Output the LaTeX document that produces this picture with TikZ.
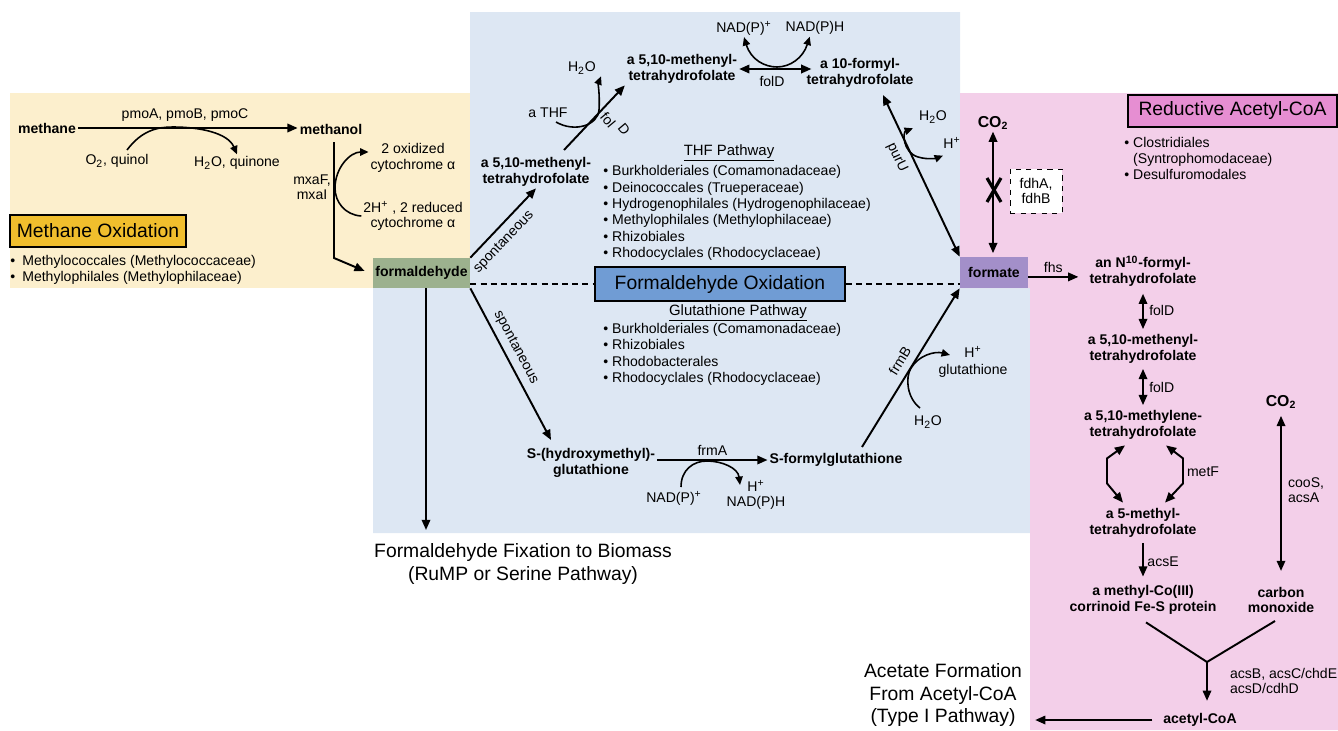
\documentclass[tikz,border=0pt]{standalone}
\usepackage{fontspec}
\setmainfont{Liberation Sans}
\usetikzlibrary{arrows.meta,positioning,calc}

\definecolor{bgblue}{RGB}{221,231,243}
\definecolor{bgyellow}{RGB}{252,239,205}
\definecolor{bgpink}{RGB}{243,207,233}
\definecolor{sage}{RGB}{156,177,142}
\definecolor{lavender}{RGB}{163,143,201}
\definecolor{gold}{RGB}{240,190,45}
\definecolor{oxblue}{RGB}{112,156,212}
\definecolor{coapink}{RGB}{230,142,210}

\tikzstyle{arrow} = [line width=1.1pt,-{Triangle[length=5.8pt,width=4.8pt]}]
\tikzstyle{dblarrow} = [line width=1.1pt,{Triangle[length=5.8pt,width=4.8pt]}-{Triangle[length=5.8pt,width=4.8pt]}]
\tikzstyle{sidearrow} = [line width=0.9pt,-{Triangle[length=4.8pt,width=4.2pt]}]
\tikzstyle{dblside} = [line width=0.9pt,{Triangle[length=4.8pt,width=4.2pt]}-{Triangle[length=4.8pt,width=4.2pt]}]
\tikzstyle{cmpd} = [font=\fontsize{8}{8.8}\selectfont\bfseries, align=center, inner sep=1pt]
\tikzstyle{lbl} = [font=\fontsize{8}{8.8}\selectfont, align=center, inner sep=1pt]
\tikzstyle{listtext} = [font=\fontsize{8}{9.3}\selectfont, align=left, inner sep=0pt, anchor=west]
\tikzstyle{titlebox} = [draw, line width=0.8pt, font=\fontsize{11}{13}\selectfont, inner sep=0pt]
\tikzstyle{bigtext} = [font=\fontsize{11}{12.6}\selectfont, align=center]

\begin{document}
\begin{tikzpicture}[x=0.02cm,y=-0.02cm]

			\useasboundingbox (0,0) rectangle (1338,730);

			% Backgrounds
			\fill[bgblue] (470,12) -- (960,12) -- (960,288) -- (1030,288) -- (1030,533)
			-- (373,533) -- (373,288) -- (470,288) -- cycle;
			\fill[bgpink] (960,93) -- (1338,93) -- (1338,730) -- (1030,730) -- (1030,288)
			-- (960,288) -- cycle;
			\fill[bgyellow] (10,93) rectangle (470,288);

			% Methane oxidation
			\node[cmpd] (methane) at (47,128) {methane};
			\node[cmpd] (methanol) at (331,129) {methanol};
			\node[lbl] (pmo) at (185,115) {pmoA, pmoB, pmoC};
			\node[lbl] (o2q) at (117,161) {O\textsubscript{2}, quinol};
			\node[lbl] (h2oq) at (237,163) {H\textsubscript{2}O, quinone};
			\node[lbl] (mxa) at (312,187) {mxaF,\\mxaI};
			\node[lbl] (cytox) at (413,158) {2 oxidized\\cytochrome α};
			\node[lbl] (cytred) at (413,216) {2H\textsuperscript{+} , 2 reduced\\cytochrome α};
			\node[titlebox, fill=gold,
			minimum width=3.52cm,
			minimum height=0.64cm,
			] (methbox) at (98,231) {Methane Oxidation};
			\node[listtext, font=\fontsize{8}{8.8}\selectfont] (methlist) at (10,270)
			{•\enspace Methylococcales (Methylococcaceae)\\•\enspace Methylophilales (Methylophilaceae)};
			\node[cmpd, fill=sage,
			minimum width=1.94cm,
			minimum height=0.6cm,
			] (formald) at (421.5,273) {formaldehyde};

			% THF pathway
			\node[cmpd] (thfa) at (536,172) {a 5,10-methenyl-\\tetrahydrofolate};
			\node[lbl] (thf) at (548,113) {a THF};
			\node[lbl] (h2oa) at (582,68) {H\textsubscript{2}O};
			\node[cmpd] (thfb) at (682,69) {a 5,10-methenyl-\\tetrahydrofolate};
			\node[lbl] (nadpa) at (744,28) {NAD(P)\textsuperscript{+}};
			\node[lbl] (nadpb) at (815,28) {NAD(P)H};
			\node[lbl] (foldtop) at (772,81) {folD};
			\node[cmpd] (thfc) at (860,73) {a 10-formyl-\\tetrahydrofolate};
			\node[lbl] (h2ob) at (933,117) {H\textsubscript{2}O};
			\node[lbl] (hpb) at (952,143) {H\textsuperscript{+}};
			\node[lbl, rotate=-50] (fol) at (608,120) {fol};
			\node[lbl, rotate=-50] (folD) at (624,129) {D};

			\node[lbl, font=\fontsize{8.5}{9}\selectfont] (thfhead) at (729,153) {\underline{THF Pathway}};
			\node[listtext] (thflist) at (603,213) {• Burkholderiales (Comamonadaceae)\\
				• Deinococcales (Trueperaceae)\\
				• Hydrogenophilales (Hydrogenophilaceae)\\
				• Methylophilales (Methylophilaceae)\\
				• Rhizobiales\\
				• Rhodocyclales (Rhodocyclaceae)};

			\node[titlebox, fill=oxblue,
			minimum width=5cm,
			minimum height=0.68cm,
			] (oxbox) at (720,284) {Formaldehyde Oxidation};

			\node[cmpd, fill=lavender,
			minimum width=1.36cm,
			minimum height=0.62cm,
			] (formate) at (994,272.5) {formate};

			% Glutathione pathway
			\node[lbl, font=\fontsize{8.5}{9}\selectfont] (gluhead) at (738,313) {\underline{Glutathione Pathway}};
			\node[listtext] (glulist) at (603,354.5) {• Burkholderiales (Comamonadaceae)\\
				• Rhizobiales\\
				• Rhodobacterales\\
				• Rhodocyclales (Rhodocyclaceae)};
			\node[cmpd] (shmg) at (591,463) {S-(hydroxymethyl)-\\glutathione};
			\node[cmpd] (sfg) at (836,460) {S-formylglutathione};
			\node[lbl] (nadpc) at (674,498) {NAD(P)\textsuperscript{+}};
			\node[lbl] (nadpd) at (756,495) {H\textsuperscript{+}\\NAD(P)H};
			\node[lbl] (hpglu) at (973,362) {H\textsuperscript{+}\\[1pt]glutathione};
			\node[lbl] (h2oc) at (928,422) {H\textsubscript{2}O};
			\node[bigtext] (fix) at (523,564) {Formaldehyde Fixation to Biomass\\(RuMP or Serine Pathway)};

			% Reductive acetyl-CoA
			\node[titlebox, fill=coapink,
			minimum width=4.18cm,
			minimum height=0.64cm,
			] (redbox) at (1232.5,111) {Reductive Acetyl-CoA};
			\node[listtext] (redlist) at (1124,158.5) {• Clostridiales\\
				\phantom{• }(Syntrophomodaceae)\\
				• Desulfuromodales};
			\node[cmpd, font=\fontsize{9}{10}\selectfont\bfseries] (co2a) at (993,123) {CO\textsubscript{2}};
			\node[lbl, draw, dashed, fill=white,
			minimum width=1.04cm,
			minimum height=0.88cm,
			] (fdh) at (1036,191) {fdhA,\\fdhB};
			\node[cmpd] (n10) at (1143,271) {an N\textsuperscript{10}-formyl-\\tetrahydrofolate};
			\node[cmpd] (mthf) at (1143,349) {a 5,10-methenyl-\\tetrahydrofolate};
			\node[cmpd] (mlthf) at (1143,425) {a 5,10-methylene-\\tetrahydrofolate};
			\node[cmpd] (m5thf) at (1143,523) {a 5-methyl-\\tetrahydrofolate};
			\node[cmpd] (mcfs) at (1143,600) {a methyl-Co(III)\\corrinoid Fe-S protein};
			\node[cmpd, font=\fontsize{9}{10}\selectfont\bfseries] (co2b) at (1281,402) {CO\textsubscript{2}};
			\node[cmpd] (co) at (1281,600) {carbon\\monoxide};
			\node[cmpd] (acoa) at (1200,720) {acetyl-CoA};
			\node[bigtext, font=\fontsize{11}{13}\selectfont] (acetate) at (943,695)
			{Acetate Formation\\From Acetyl-CoA\\(Type I Pathway)};
			\node[lbl, align=left, anchor=west] (coos) at (1286,490) {cooS,\\acsA};
			\node[lbl, align=left, anchor=west] (acsb) at (1228,681) {acsB, acsC/chdE\\acsD/cdhD};
			\node[lbl] (metf) at (1203,472) {metF};

			% Coordinates
			\coordinate (pmoin) at (127,150);
			\coordinate (pmotouch) at (173,127);
			\coordinate (mxatop) at (334,142);
			\coordinate (mxabend) at (334,258);
			\coordinate (foldstart) at (564,150);
			\coordinate (thfin) at (556,122);
			\coordinate (purUtop) at (883,95);
			\coordinate (spontend) at (551,440);
			\coordinate (fixend) at (426,530);
			\coordinate (frmAin) at (681,487);
			\coordinate (frmBstart) at (862,447);
			\coordinate (frmBin) at (920,408);
			\coordinate (xmark) at (994,190);
			\coordinate (ymerge) at (1207,662);

			% Arrows
			\draw[arrow] (methane.east) -- (methane.east -| methanol.west);
			\draw[sidearrow] (pmoin) .. controls (142,130) and (158,127) .. (pmotouch)
			.. controls (200,127) and (228,133) .. (h2oq.north);
			\draw[arrow] (mxatop) -- (mxabend) -- ([shift={(-8,-2)}]formald.west);
			\draw[sidearrow] (cytred.west) .. controls (345,215) and (335,202) .. (335,188)
			.. controls (335,168) and (350,152) .. ([shift={(0,-6)}]cytox.west);

			\draw[arrow] (formald.north east) -- (thfa.south)
			node[lbl, pos=0.36, sloped, below=3pt] {spontaneous};
			\draw[arrow] (foldstart) -- (thfb.south west);
			\draw[sidearrow] (thfin) .. controls (575,133) and (598,125) .. (599,110)
			.. controls (600,95) and (598,84) .. ([shift={(3,0)}]h2oa.south east);
			\draw[dblarrow] (thfb.east) -- ([xshift=4pt]thfb.east -| thfc.west);
			\draw[dblside] (nadpa.south) .. controls (751,60) and (765,67) .. (777,67)
			.. controls (790,67) and (803,58) .. ([xshift=-3pt]nadpb.south);
			\draw[dblarrow] (purUtop) -- (formate.north west)
			node[lbl, pos=0.35, sloped, below=3pt] {purU};
			\draw[dblside] ([shift={(-20,3)}]h2ob.south) .. controls (903,132) and (902,152) .. (918,157)
			.. controls (928,160) and (937,158) .. ([shift={(-9,5)}]hpb.south);

			\draw[dashed, line width=0.7pt, dash pattern=on 3.4pt off 2.4pt]
			(formald.east |- oxbox.west) -- (oxbox.west);
			\draw[dashed, line width=0.7pt, dash pattern=on 3.4pt off 2.4pt]
			(oxbox.east) -- (oxbox.east -| formate.west);

			\draw[arrow] (formald.south east) -- (spontend)
			node[lbl, pos=0.43, sloped, above=2pt] {spontaneous};
			\draw[arrow] (formald.south -| fixend) -- (fixend);
			\draw[arrow] (shmg.east |- sfg.west) -- (sfg.west)
			node[lbl, midway, above=1pt] {frmA};
			\draw[sidearrow] (frmAin) .. controls (681,470) and (693,461) .. (707,461)
			.. controls (722,461) and (738,468) .. (740,485);
			\draw[arrow] (frmBstart) -- (formate.south west)
			node[lbl, midway, sloped, above=3pt] {frmB};
			\draw[sidearrow] (frmBin) .. controls (907,398) and (905,378) .. (911,368)
			.. controls (919,355) and (935,351) .. (950,355);

			% Reductive acetyl-CoA arrows
			\draw[dblarrow, shorten >=2pt] (co2a.south) -- (co2a.south |- formate.north);
			\draw[line width=1.8pt] ([shift={(-7,-12)}]xmark) -- ([shift={(7,12)}]xmark)
			([shift={(7,-12)}]xmark) -- ([shift={(-7,12)}]xmark);
			\draw[arrow] ([yshift=-2.5pt]formate.east) -- ++(50,0)
			node[lbl, midway, above=1pt] {fhs};
			\draw[dblarrow, shorten <=3pt, shorten >=2pt] (n10.south) -- (mthf.north)
			node[lbl, midway, right=2pt] {folD};
			\draw[dblarrow, shorten <=2pt, shorten >=2pt] (mthf.south) -- (mlthf.north)
			node[lbl, midway, right=2pt] {folD};
			\draw[dblarrow, line join=miter] ([shift={(-18,4)}]mlthf.south) -- ++(-18,13) -- ++(0,25)
			-- ([shift={(-20,-4)}]m5thf.north);
			\draw[dblarrow, line join=miter] ([shift={(23,4)}]mlthf.south) -- ++(17,13) -- ++(0,25)
			-- ([shift={(22,-4)}]m5thf.north);
			\draw[arrow, shorten <=2pt, shorten >=4pt] (m5thf.south) -- (mcfs.north)
			node[lbl, midway, right=1pt] {acsE};
			\draw[dblarrow, shorten <=3pt, shorten >=8pt] (co2b.south) -- (co.north);
			\draw[line width=1.1pt] ([shift={(3,6)}]mcfs.south) -- (ymerge)
			-- ([shift={(-6,6)}]co.south);
			\draw[arrow, shorten >=6pt] (ymerge) -- (ymerge |- acoa.north);
			\draw[arrow, shorten <=5pt, shorten >=4pt] (acoa.west) -- (acoa.west -| acetate.east);

		\end{tikzpicture}
\end{document}
